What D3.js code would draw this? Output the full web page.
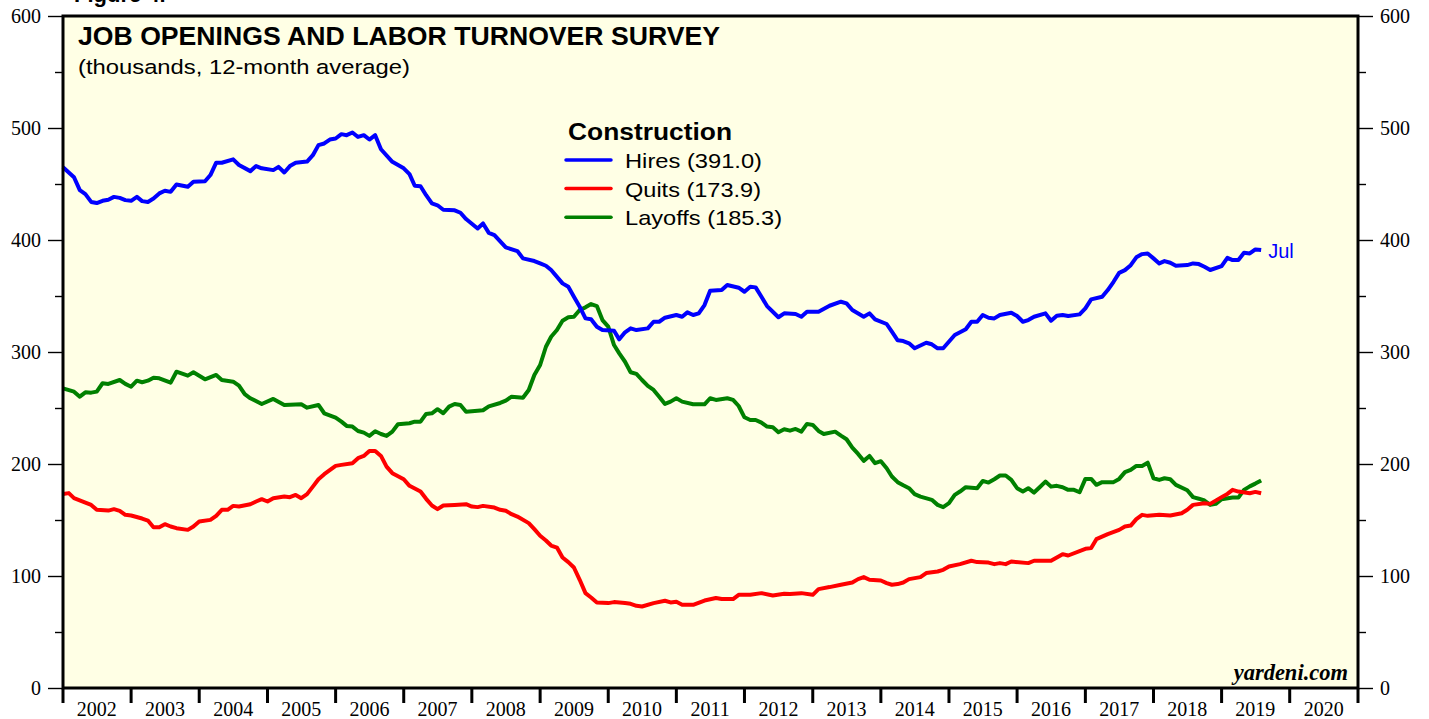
<!DOCTYPE html>
<html>
<head>
<meta charset="utf-8">
<script src="https://cdn.jsdelivr.net/npm/d3@7"></script>
<style>
  body { margin: 0; background: #fff; }
  svg { display: block; }
</style>
</head>
<body>
<div id="chart"></div>
<script>
// JOLTS construction, 12-month averages (thousands), month of data -> value
const hires = [["2001-12",465],["2002-02",456],["2002-03",444.5],["2002-04",441],["2002-05",434],["2002-06",433],["2002-07",435],["2002-08",436],["2002-09",438.5],["2002-10",437.6],["2002-11",435.6],["2002-12",435],
["2003-01",438.5],["2003-02",434.7],["2003-03",434],["2003-04",437],["2003-05",441.6],["2003-06",444],["2003-07",443],["2003-08",449.6],["2003-10",447.5],["2003-11",452],
["2004-01",452.5],["2004-02",458],["2004-03",469],["2004-04",469],["2004-06",472],["2004-07",467],["2004-09",461.5],["2004-10",466],["2004-11",464],
["2005-01",462.4],["2005-02",465.3],["2005-03",460.3],["2005-04",466],["2005-05",469],["2005-07",470],["2005-08",475.7],["2005-09",484.7],["2005-10",486.2],["2005-11",489.7],["2005-12",490.6],
["2006-01",494.5],["2006-02",493.6],["2006-03",496],["2006-04",492],["2006-05",493.6],["2006-06",489.7],["2006-07",493.6],["2006-08",481],["2006-10",469.8],["2006-12",464],
["2007-01",458.8],["2007-02",448.4],["2007-03",448],["2007-04",440],["2007-05",432.7],["2007-06",431],["2007-07",427],["2007-09",426.5],["2007-10",424.3],["2007-11",418.7],
["2008-01",410.3],["2008-02",414.8],["2008-03",406.4],["2008-04",404.4],["2008-06",393.4],["2008-08",390.1],["2008-09",383.6],["2008-11",381.2],["2008-12",379.1],
["2009-01",377],["2009-02",373.2],["2009-04",361.3],["2009-05",358.2],["2009-06",349.3],["2009-07",340.4],["2009-08",330],["2009-09",329.2],["2009-10",322.6],["2009-11",319.6],
["2010-01",319],["2010-02",311.3],["2010-03",317.6],["2010-04",321.1],["2010-05",319.6],["2010-07",321.1],["2010-08",327],["2010-09",327],["2010-10",330.6],["2010-12",333],
["2011-01",331.5],["2011-02",335.4],["2011-03",333],["2011-04",334.5],["2011-05",341.9],["2011-06",354.7],["2011-08",355.3],["2011-09",359.8],["2011-11",357.4],["2011-12",353.8],
["2012-01",358.2],["2012-02",357.7],["2012-03",349.3],["2012-04",341],["2012-06",331],["2012-07",334.5],["2012-09",333.9],["2012-10",331.5],["2012-11",336],
["2013-01",336],["2013-03",341.3],["2013-05",344.9],["2013-06",343.4],["2013-07",337.5],["2013-09",331.5],["2013-10",334.5],["2013-11",329.2],
["2014-01",325],["2014-02",318.1],["2014-03",310.4],["2014-04",309.8],["2014-05",307.8],["2014-06",303.3],["2014-08",308.3],["2014-09",306.9],["2014-10",303.3],["2014-11",303.3],
["2015-01",315.2],["2015-03",320.3],["2015-04",327],["2015-05",327],["2015-06",333],["2015-07",330.6],["2015-08",330],["2015-09",333],["2015-11",335.1],["2015-12",332.1],
["2016-01",327],["2016-02",328.5],["2016-03",331.5],["2016-05",334.5],["2016-06",327.9],["2016-07",332.4],["2016-08",333],["2016-09",332.1],["2016-11",333.6],["2016-12",339],
["2017-01",347],["2017-03",349.3],["2017-04",355.3],["2017-05",362.7],["2017-06",370.7],["2017-07",373.1],["2017-08",377.5],["2017-09",384.5],["2017-10",387.4],["2017-11",388],["2017-12",383.6],
["2018-01",379.1],["2018-02",381.2],["2018-03",379.7],["2018-04",377],["2018-06",377.6],["2018-07",379.1],["2018-08",378.5],["2018-09",376.1],["2018-10",373.2],["2018-12",376.7],
["2019-01",384.1],["2019-02",382.1],["2019-03",382.1],["2019-04",388.6],["2019-05",388],["2019-06",391.6],["2019-07",391]];

const quits = [["2001-12",173.3],["2002-01",174],["2002-02",169.5],["2002-04",165.6],["2002-05",163.5],["2002-06",159.1],["2002-08",158.4],["2002-09",159.7],["2002-10",158.2],["2002-11",154.6],["2002-12",154],
["2003-02",151.3],["2003-03",149.5],["2003-04",143.6],["2003-05",143.6],["2003-06",146.3],["2003-07",144.2],["2003-08",142.7],["2003-10",141.2],["2003-11",144.2],["2003-12",148.6],
["2004-02",150.1],["2004-03",153.7],["2004-04",159.1],["2004-05",159.1],["2004-06",162.6],["2004-07",162],["2004-09",164.1],["2004-10",166.5],["2004-11",168.6],["2004-12",166.5],
["2005-01",169.5],["2005-03",170.9],["2005-04",170.4],["2005-05",172.4],["2005-06",169.5],["2005-07",173.1],["2005-08",179.8],["2005-09",186.4],["2005-10",190.9],["2005-12",198.3],
["2006-01",199.2],["2006-03",200.7],["2006-04",205.2],["2006-05",207.2],["2006-06",211.7],["2006-07",211.7],["2006-08",207.2],["2006-09",197.7],["2006-10",191.8],["2006-12",186.4],
["2007-01",180.5],["2007-03",175.4],["2007-04",168.9],["2007-05",162.9],["2007-06",159.7],["2007-07",162.9],["2007-09",163.5],["2007-11",164.1],["2007-12",162],
["2008-01",161.5],["2008-02",162.6],["2008-04",161.1],["2008-05",159.1],["2008-06",158.2],["2008-07",155.2],["2008-08",153.1],["2008-10",147.2],["2008-11",141.8],["2008-12",135.9],
["2009-01",131.7],["2009-02",127.2],["2009-03",125.4],["2009-04",116.5],["2009-05",112.4],["2009-06",107.6],["2009-07",96.6],["2009-08",84.7],["2009-09",80.8],["2009-10",76.4],["2009-12",75.8],
["2010-01",76.7],["2010-03",75.8],["2010-04",75.2],["2010-05",73.4],["2010-06",72.8],["2010-08",75.8],["2010-10",77.9],["2010-11",76.4],["2010-12",77],
["2011-01",74.3],["2011-03",74.3],["2011-05",78.1],["2011-07",80.3],["2011-08",79.4],["2011-10",79.4],["2011-11",83.2],
["2012-01",83.2],["2012-03",84.7],["2012-05",82.6],["2012-07",84.1],["2012-08",83.9],["2012-10",84.7],["2012-12",83.2],
["2013-01",88.3],["2013-03",90.1],["2013-05",92.2],["2013-07",94.2],["2013-08",97.2],["2013-09",99],["2013-10",96.6],["2013-12",96],
["2014-01",93.7],["2014-02",92.2],["2014-03",92.8],["2014-04",94.2],["2014-05",97.2],["2014-07",99],["2014-08",102.6],["2014-10",104],["2014-11",105.5],["2014-12",108.5],
["2015-02",110.6],["2015-04",113.6],["2015-05",112.4],["2015-07",112],["2015-08",110.6],["2015-09",111.5],["2015-10",110.6],["2015-11",112.9],
["2016-02",111.5],["2016-03",113.6],["2016-06",113.6],["2016-08",119.5],["2016-09",118.3],["2016-12",124.3],
["2017-01",124.9],["2017-02",132.9],["2017-04",137.4],["2017-06",141.2],["2017-07",144.2],["2017-08",145],["2017-09",150.8],["2017-10",154.6],["2017-11",153.7],
["2018-01",154.6],["2018-03",154],["2018-05",156.1],["2018-06",159.1],["2018-07",163.5],["2018-09",165],["2018-10",164.4],["2018-12",170.4],
["2019-01",173.3],["2019-02",176.9],["2019-03",175.4],["2019-05",173.9],["2019-06",175.1],["2019-07",173.9]];

const layoffs = [["2001-12",267.6],["2002-02",264.6],["2002-03",260.1],["2002-04",264],["2002-05",263.7],["2002-06",264.6],["2002-07",272.1],["2002-08",271.5],["2002-10",275],["2002-11",271.5],["2002-12",269],
["2003-01",274.4],["2003-02",273],["2003-03",274.4],["2003-04",277.1],["2003-05",276.5],["2003-07",272.6],["2003-08",282.4],["2003-10",278.9],["2003-11",281.9],
["2004-01",275.6],["2004-03",279.5],["2004-04",275],["2004-06",273.5],["2004-07",270],["2004-08",262.3],["2004-09",258.7],["2004-11",253.6],
["2005-01",258.1],["2005-03",252.7],["2005-06",253.3],["2005-07",250.3],["2005-09",252.7],["2005-10",245.3],["2005-12",241.4],
["2006-01",237.8],["2006-02",234],["2006-03",233.4],["2006-04",229.5],["2006-05",228],["2006-06",225.1],["2006-07",229.3],["2006-08",226.8],["2006-09",225.1],["2006-10",228.9],["2006-11",235.5],
["2007-01",236.4],["2007-02",237.8],["2007-03",237.8],["2007-04",244.7],["2007-05",245.3],["2007-06",248.9],["2007-07",245.3],["2007-08",251.2],["2007-09",253.6],["2007-10",252.7],["2007-11",246.7],
["2008-01",247.6],["2008-02",248],["2008-03",251.5],["2008-05",254.5],["2008-06",256.6],["2008-07",260.1],["2008-09",259.2],["2008-10",266.1],["2008-11",279.5],["2008-12",288.4],
["2009-01",304.7],["2009-02",313.6],["2009-03",319.6],["2009-04",327.9],["2009-05",331],["2009-06",331.5],["2009-07",337.5],["2009-08",339.9],["2009-09",342.8],["2009-10",341],["2009-11",328.5],["2009-12",322.6],
["2010-01",306.2],["2010-02",298.8],["2010-03",291.3],["2010-04",281.9],["2010-05",280.4],["2010-06",275],["2010-07",269.7],["2010-08",266.1],["2010-09",260.1],["2010-10",253.6],["2010-11",255.7],["2010-12",258.7],
["2011-01",255.7],["2011-03",253.3],["2011-05",253.3],["2011-06",258.7],["2011-07",257.2],["2011-09",258.7],["2011-10",257.2],["2011-11",251.8],["2011-12",241.7],
["2012-01",239.3],["2012-02",239.3],["2012-03",236.9],["2012-04",233.4],["2012-05",232.8],["2012-06",228.4],["2012-07",231],["2012-08",229.8],["2012-09",231.3],["2012-10",228.9],["2012-11",235.8],["2012-12",234.9],
["2013-01",229.5],["2013-02",226.8],["2013-04",228.9],["2013-05",225.3],["2013-06",222.1],["2013-07",214.6],["2013-08",209],["2013-09",202.8],["2013-10",207.2],["2013-11",200.7],["2013-12",202.5],
["2014-01",196.2],["2014-02",188.8],["2014-03",183.8],["2014-04",181],["2014-05",178.4],["2014-06",173.1],["2014-07",170.9],["2014-09",168],["2014-10",163.5],["2014-11",161.5],["2014-12",165],
["2015-01",172.4],["2015-02",175.4],["2015-03",179.3],["2015-05",178.4],["2015-06",184.9],["2015-07",183.4],["2015-08",186.4],["2015-09",189.7],["2015-10",189.7],["2015-11",185.8],["2015-12",178.4],
["2016-01",175.4],["2016-02",178.4],["2016-03",174.5],["2016-04",179.3],["2016-05",184.3],["2016-06",179.8],["2016-07",180.5],["2016-08",179.3],["2016-09",176.9],["2016-10",176.9],["2016-11",174.8],["2016-12",186.7],
["2017-01",186.7],["2017-02",181.4],["2017-03",183.8],["2017-05",183.8],["2017-06",186.7],["2017-07",192.7],["2017-08",194.7],["2017-09",198.3],["2017-10",198.3],["2017-11",201.2],["2017-12",187.3],
["2018-01",185.8],["2018-02",187.3],["2018-03",186.4],["2018-04",181.4],["2018-06",176.5],["2018-07",170.4],["2018-08",169],["2018-09",167.4],["2018-10",163.5],["2018-11",164.4],["2018-12",168.6],
["2019-02",170],["2019-03",170],["2019-04",176.9],["2019-05",180],["2019-06",182.5],["2019-07",185.3]];

const seriesNames = ["Hires (391.0)", "Quits (173.9)", "Layoffs (185.3)"];
const seriesColors = ["#0000ff", "#ff0000", "#008000"];
const yearLabels = d3.range(2002, 2021);
const yMajor = [0, 100, 200, 300, 400, 500, 600];
const yMinor = [50, 150, 250, 350, 450, 550];

const W = 1429, H = 719;
const mLeft = 63, mRight = 1358, mTop = 16, mBottom = 688;

const svg = d3.select("#chart").append("svg").attr("width", W).attr("height", H);

// monthly value plotted at end of month
const parseMonth = d3.timeParse("%Y-%m");
const toPts = arr => arr.map(d => ({ date: d3.timeMonth.offset(parseMonth(d[0]), 1), v: d[1] }));

const x = d3.scaleTime().domain([new Date(2002, 0, 1), new Date(2021, 0, 1)]).range([mLeft, mRight]);
const y = d3.scaleLinear().domain([0, 600]).range([mBottom, mTop]);

const sans = "Liberation Sans, Arial, sans-serif";
const serif = "Liberation Serif, Times New Roman, serif";

// figure caption, mostly above the page edge as in the source
svg.append("text").attr("x", 74).attr("y", 2)
  .attr("font-family", sans).attr("font-weight", "bold")
  .attr("font-size", 22).text("Figure 4.");

svg.append("rect").attr("x", mLeft).attr("y", mTop).attr("width", mRight - mLeft).attr("height", mBottom - mTop)
  .attr("fill", "#ffffe5");

// y axes
function yAxes(g, axisFn, dx) {
  g.append("g").attr("transform", `translate(${dx},0)`)
    .call(axisFn(y).tickValues(yMajor).tickSize(15).tickPadding(7).tickFormat(d3.format("d")))
    .call(a => a.select(".domain").remove())
    .call(a => a.selectAll("text").attr("font-family", serif).attr("font-size", 20).attr("fill", "#000"))
    .call(a => a.selectAll("line").attr("stroke", "#000").attr("stroke-width", 1.4));
  g.append("g").attr("transform", `translate(${dx},0)`)
    .call(axisFn(y).tickValues(yMinor).tickSize(8).tickFormat(""))
    .call(a => a.select(".domain").remove())
    .call(a => a.selectAll("line").attr("stroke", "#000").attr("stroke-width", 1.4));
}
yAxes(svg, d3.axisLeft, mLeft);
yAxes(svg, d3.axisRight, mRight);

// bottom year ticks
const xg = svg.append("g");
xg.selectAll("line").data(d3.timeYear.range(new Date(2002, 0, 1), new Date(2021, 0, 2)))
  .join("line")
  .attr("x1", d => x(d)).attr("x2", d => x(d))
  .attr("y1", mBottom).attr("y2", mBottom + 15)
  .attr("stroke", "#000").attr("stroke-width", 3);
xg.selectAll("text").data(yearLabels).join("text")
  .attr("x", d => x(new Date(d, 6, 1)))
  .attr("y", 716)
  .attr("text-anchor", "middle")
  .attr("font-family", serif).attr("font-size", 20)
  .text(d => d);

// series
const line = d3.line().x(d => x(d.date)).y(d => y(d.v));
const allSeries = [toPts(hires), toPts(quits), toPts(layoffs)];
// hires drawn last so it sits on top
[2, 1, 0].forEach(i => {
  svg.append("path").datum(allSeries[i])
    .attr("d", line)
    .attr("fill", "none")
    .attr("stroke", seriesColors[i])
    .attr("stroke-width", 4)
    .attr("stroke-linejoin", "round");
});

// border
svg.append("rect").attr("x", mLeft).attr("y", mTop).attr("width", mRight - mLeft).attr("height", mBottom - mTop)
  .attr("fill", "none").attr("stroke", "#000").attr("stroke-width", 3);

// the source font is a bit wider than Arial, so stretch to the measured widths
svg.append("text").attr("x", 78).attr("y", 45)
  .attr("font-family", sans).attr("font-weight", "bold").attr("font-size", 25.5)
  .attr("textLength", 642).attr("lengthAdjust", "spacingAndGlyphs")
  .text("JOB OPENINGS AND LABOR TURNOVER SURVEY");
svg.append("text").attr("x", 78).attr("y", 74)
  .attr("font-family", sans).attr("font-size", 20.5)
  .attr("textLength", 332).attr("lengthAdjust", "spacingAndGlyphs")
  .text("(thousands, 12-month average)");

// legend
const legendLens = [137, 136, 157];
const lg = svg.append("g");
lg.append("text").attr("x", 568).attr("y", 140)
  .attr("font-family", sans).attr("font-weight", "bold").attr("font-size", 23)
  .attr("textLength", 164).attr("lengthAdjust", "spacingAndGlyphs")
  .text("Construction");
seriesNames.forEach((n, i) => {
  const yy = 160 + i * 28.6;
  lg.append("line").attr("x1", 566).attr("x2", 611).attr("y1", yy).attr("y2", yy)
    .attr("stroke", seriesColors[i]).attr("stroke-width", 3.5).attr("stroke-linecap", "round");
  lg.append("text").attr("x", 625).attr("y", yy + 8)
    .attr("font-family", sans).attr("font-size", 21)
    .attr("textLength", legendLens[i]).attr("lengthAdjust", "spacingAndGlyphs")
    .text(n);
});

// last-month label
const lastH = allSeries[0][allSeries[0].length - 1];
svg.append("text").attr("x", x(lastH.date) + 7).attr("y", y(lastH.v) + 8)
  .attr("font-family", sans).attr("font-size", 20).attr("fill", "#0000ff").text("Jul");

svg.append("text").attr("x", 1348).attr("y", 680).attr("text-anchor", "end")
  .attr("font-family", serif).attr("font-weight", "bold").attr("font-style", "italic")
  .attr("font-size", 22.5).text("yardeni.com");
</script>
</body>
</html>
